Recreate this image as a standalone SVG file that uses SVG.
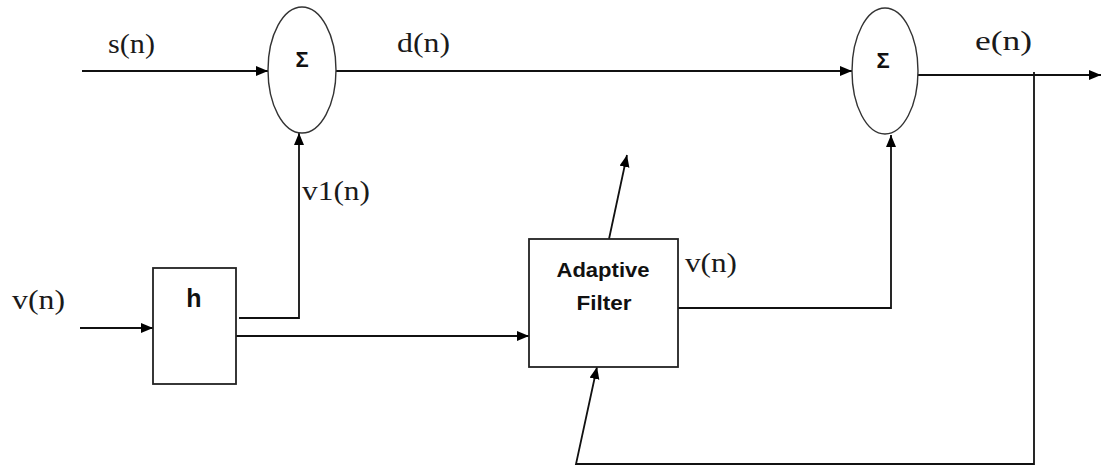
<svg xmlns="http://www.w3.org/2000/svg" width="1102" height="468" viewBox="0 0 1102 468">
<defs>
<marker id="arr" markerUnits="userSpaceOnUse" markerWidth="13" markerHeight="11" refX="12" refY="5" orient="auto">
<path d="M0,0 L12,5 L0,10 z" fill="#000"/>
</marker>
<style>
.lbl{font-family:"Liberation Serif","Times New Roman",serif;font-size:28px;fill:#1a1a1a}
.bold{font-family:"Liberation Sans",Arial,sans-serif;font-weight:bold;fill:#111}
.sum{fill:#fff;stroke:#333;stroke-width:1.4}
.box{fill:#fff;stroke:#222;stroke-width:1.8}
.wire{fill:none;stroke:#111;stroke-width:1.8;marker-end:url(#arr)}
</style>
</defs>
<rect width="1102" height="468" fill="#fff"/>
<g id="connectors">
<path class="wire" d="M82,71 L268,71"/>
<path class="wire" d="M336,71 L852,71"/>
<path class="wire" d="M918,75 L1101,75"/>
<path class="wire" d="M1034,72 L1034,464 L576,464 L597,367"/>
<path class="wire" d="M80,328 L153,328"/>
<path class="wire" d="M239,318 L299,318 L299,133"/>
<path class="wire" d="M236,336 L529,336"/>
<path class="wire" d="M678,308 L891,308 L891,135"/>
<path class="wire" d="M609,239 L627,155"/>
</g>
<g id="sum1">
<ellipse class="sum" cx="302" cy="70" rx="34" ry="63"/>
<text class="bold" x="302" y="67" font-size="22" text-anchor="middle">Σ</text>
</g>
<g id="sum2">
<ellipse class="sum" cx="885" cy="71" rx="33" ry="63"/>
<text class="bold" x="883" y="68" font-size="22" text-anchor="middle">Σ</text>
</g>
<g id="h">
<rect class="box" x="153" y="268" width="83" height="116"/>
<text class="bold" x="194" y="307" font-size="25" text-anchor="middle">h</text>
</g>
<g id="adaptive-filter">
<rect class="box" x="529" y="239" width="149" height="128"/>
<text class="bold" x="603" y="277" font-size="21" text-anchor="middle" textLength="93" lengthAdjust="spacingAndGlyphs">Adaptive</text>
<text class="bold" x="604" y="310" font-size="21" text-anchor="middle" textLength="55" lengthAdjust="spacingAndGlyphs">Filter</text>
</g>
<g id="labels">
<text class="lbl" x="108" y="53" textLength="47" lengthAdjust="spacingAndGlyphs">s(n)</text>
<text class="lbl" x="397" y="52" textLength="53" lengthAdjust="spacingAndGlyphs">d(n)</text>
<text class="lbl" x="975" y="50" textLength="57" lengthAdjust="spacingAndGlyphs">e(n)</text>
<text class="lbl" x="302" y="200" textLength="68" lengthAdjust="spacingAndGlyphs">v1(n)</text>
<text class="lbl" x="12" y="309" textLength="53" lengthAdjust="spacingAndGlyphs">v(n)</text>
<text class="lbl" x="685" y="272" textLength="52" lengthAdjust="spacingAndGlyphs">v(n)</text>
</g>
</svg>
